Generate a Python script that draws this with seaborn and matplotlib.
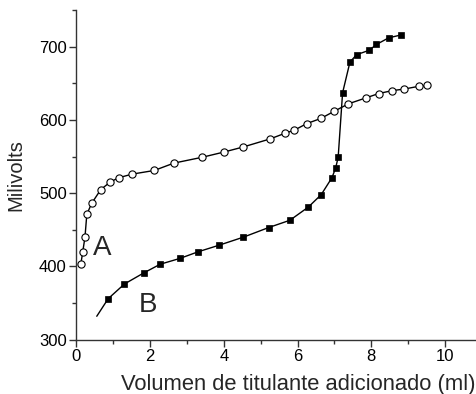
import matplotlib
matplotlib.use("Agg")
import matplotlib.pyplot as plt
import seaborn as sns
import pandas as pd
from matplotlib.ticker import MultipleLocator

# Curve A (open circles)
a_x = [0.12, 0.17, 0.23, 0.28, 0.41, 0.66, 0.91, 1.14, 1.51, 2.11, 2.64, 3.41, 3.99,
       4.52, 5.25, 5.67, 5.91, 6.25, 6.63, 7.00, 7.38, 7.85, 8.20, 8.57, 8.88, 9.30, 9.52]
a_y = [404, 420, 440, 471, 486, 505, 515, 521, 526, 531, 541, 549, 556,
       563, 574, 582, 586, 595, 602, 612, 622, 630, 636, 640, 642, 646, 647]

# Curve B (filled squares)
b_x = [0.86, 1.30, 1.82, 2.27, 2.81, 3.30, 3.87, 4.53, 5.21, 5.79, 6.29, 6.64, 6.93,
       7.03, 7.10, 7.22, 7.42, 7.60, 7.94, 8.14, 8.47, 8.81]
b_y = [356, 376, 391, 403, 411, 420, 429, 440, 453, 463, 481, 498, 521,
       534, 549, 637, 679, 689, 695, 703, 712, 716]

# Start of the fitted curve B (before first point)
b_fit_start_x = [0.55]
b_fit_start_y = [332]

x_label = "Volumen de titulante adicionado (ml)"
y_label = "Milivolts"

sns.set_style("ticks")
plt.rcParams['font.family'] = ['Liberation Sans', 'DejaVu Sans']

dfA = pd.DataFrame({"x": a_x, "y": a_y})
dfB = pd.DataFrame({"x": b_x, "y": b_y})
dfBline = pd.DataFrame({"x": b_fit_start_x + b_x, "y": b_fit_start_y + b_y})

fig = plt.figure(figsize=(4.76, 3.94), dpi=100)
ax = fig.add_axes([0.1607, 0.1378, 0.8393, 0.8368])

sns.lineplot(data=dfA, x="x", y="y", ax=ax, color="black", lw=1.0, sort=False)
sns.lineplot(data=dfBline, x="x", y="y", ax=ax, color="black", lw=1.0, sort=False)
ax.plot(dfA["x"], dfA["y"], ls="none", marker="o", ms=5.2, mfc="white",
        mec="black", mew=0.8, zorder=3)
ax.plot(dfB["x"], dfB["y"], ls="none", marker="s", ms=4.4, mfc="black",
        mec="black", mew=0.5, zorder=3)

ax.text(0.45, 415, "A", fontsize=20, ha="left", va="baseline")
ax.text(1.70, 338, "B", fontsize=20, ha="left", va="baseline")

ax.set_xlim(0, 10.84)
ax.set_ylim(300, 750)
ax.xaxis.set_major_locator(MultipleLocator(2))
ax.xaxis.set_minor_locator(MultipleLocator(1))
ax.yaxis.set_major_locator(MultipleLocator(100))
ax.yaxis.set_minor_locator(MultipleLocator(50))
ax.set_yticks([300, 400, 500, 600, 700])

for s in ["top", "right"]:
    ax.spines[s].set_visible(False)
for s in ["left", "bottom"]:
    ax.spines[s].set_linewidth(1.0)
    ax.spines[s].set_color("#333333")

ax.tick_params(which="major", direction="out", length=5, width=1.0, labelsize=12,
               colors="#333333", labelcolor="black", pad=2)
ax.tick_params(which="minor", direction="out", length=3, width=1.0, colors="#333333")

ax.set_xlabel(x_label, fontsize=15.8)
ax.set_ylabel(y_label, fontsize=14.5)
ax.xaxis.set_label_coords(0.556, -0.105)
ax.yaxis.set_label_coords(-0.128, 0.5)

fig.savefig("out.png", dpi=100)
